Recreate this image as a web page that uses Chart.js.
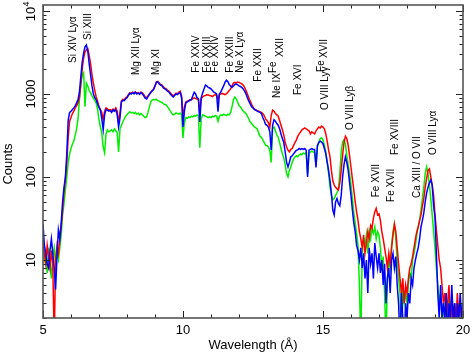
<!DOCTYPE html>
<html>
<head>
<meta charset="utf-8">
<script src="https://cdn.jsdelivr.net/npm/chart.js@4"></script>
<style>
  html, body { margin: 0; padding: 0; background: #fff; }
  #wrap { width: 472px; height: 353px; position: relative; }
</style>
</head>
<body>
<div id="wrap"><canvas id="spec"></canvas></div>
<script>
// spectrum bins: 0.05 A wide, starting at 5 A
const wlStart = 5.0;
const wlStep = 0.05;

// counts per bin (one row per Angstrom)
const countsRed = [
  16,12,9,15,11,8,13,9,1,10,15,12,18,25,40,65,95,150,300,470,
  520,580,620,680,720,780,900,1300,2000,2700,3200,3400,3500,2900,2300,1700,1350,1100,920,820,
  700,650,600,490,620,680,660,640,650,630,660,640,680,620,450,600,820,860,850,900,
  920,980,1030,1020,1050,1030,1060,1020,1040,1010,1050,1030,980,920,900,950,1000,1050,1100,1150,
  1250,1400,1420,1350,1300,1280,1220,1180,1150,1100,1080,1030,980,950,980,1020,1000,1050,1080,950,
  520,700,800,820,830,850,850,880,900,880,870,860,600,880,920,950,960,980,970,960,
  950,930,960,980,970,850,980,1000,1020,1000,980,1000,1050,1100,1150,1250,1350,1380,1350,1390,
  1380,1350,1320,1280,1200,1100,1000,900,820,750,690,660,640,630,620,610,600,580,550,500,
  480,450,400,550,640,620,580,560,540,480,420,370,320,260,230,210,200,215,220,240,
  260,280,310,330,350,370,380,390,380,370,360,330,350,340,330,360,380,400,390,410,
  400,380,330,270,210,175,120,90,80,75,72,70,85,120,180,260,310,290,240,180,
  130,95,70,50,38,30,22,18,14,20,12,16,22,18,26,24,32,38,42,35,
  36,30,22,18,14,11,8,12,9,14,20,27,22,14,9,6,4,6,3,5,
  4,6,8,9,11,14,18,22,25,30,35,45,55,75,95,120,125,100,80,60,
  35,23,15,10,8,5,3,4,2,3,5,2,3,1,3,2,4,2,3,2,3
];
const countsGreen = [
  18,10,12,7,14,9,6,11,14,9,12,10,14,20,35,48,70,100,150,190,
  220,250,270,320,380,500,850,1300,1700,1800,700,1350,1250,1100,1030,950,890,830,775,650,
  490,400,340,230,195,330,370,350,360,370,350,380,360,340,200,380,420,460,500,540,
  560,590,610,590,600,580,600,570,590,560,580,560,540,520,530,600,700,800,850,860,
  850,860,830,820,800,790,760,750,737,700,660,620,580,560,570,590,580,570,590,560,
  296,450,520,510,530,520,540,530,550,540,560,550,225,500,560,550,540,530,520,530,
  520,540,530,550,540,470,540,560,550,570,560,550,570,560,600,700,850,920,880,800,
  720,700,660,620,600,580,540,500,460,440,420,400,390,380,340,310,300,280,260,240,
  240,230,210,150,380,400,360,320,300,260,220,190,170,140,110,100,120,132,150,165,
  175,180,175,185,190,185,195,190,195,110,190,200,205,200,195,140,230,260,290,296,
  280,240,200,150,110,76,60,53,55,60,65,70,110,200,263,280,250,180,140,110,
  80,55,37,28,21,15,5,1,12,18,15,20,12,22,18,24,21,25,18,22,
  20,14,8,11,4,1,6,10,8,15,22,27,18,10,6,4,1,5,3,4,
  3,5,7,6,10,12,15,20,25,30,40,55,75,110,132,110,80,55,35,22,
  14,8,5,3,4,2,3,1,3,2,4,2,3,2,1,3,2,3,2,3,2
];
const countsBlue = [
  27,15,12,9,8,13,18,12,8,4.4,11,23,18,28,50,75,100,190,480,600,
  620,650,680,720,780,850,1050,1600,2400,3100,3700,3900,3300,2300,1700,1250,1000,900,850,760,
  690,640,500,370,560,650,640,620,630,600,640,620,650,560,400,520,800,840,830,870,
  900,960,1020,1000,1040,1000,1050,1000,1030,990,1040,1000,950,890,870,930,990,1040,1090,1130,
  1250,1380,1400,1320,1280,1250,1180,1150,1120,1080,1050,1000,950,920,960,1000,980,1020,1040,900,
  400,620,780,800,820,840,860,950,1050,1000,900,880,460,900,1030,1150,1280,1250,1200,1180,
  1150,1100,1050,1030,1000,610,1000,1060,1150,1250,1380,1470,1420,1300,1250,1200,1250,1300,1320,1290,
  1250,1230,1200,1150,1080,1000,900,820,760,700,680,650,640,620,610,600,580,520,480,430,
  420,400,350,212,420,490,470,440,420,380,330,290,260,200,150,132,150,175,180,190,
  200,210,212,220,215,220,215,220,210,100,210,215,220,215,215,130,240,260,270,263,
  250,220,190,150,120,90,64,40,35,50,55,48,45,60,100,140,175,150,120,85,
  60,40,28,22,15,13,10,14,8,12,6,10,4,14,9,12,6,16,11,8,
  12,7,10,5,9,3,6,8,4,10,12,8,11,5,3,1,4,2,1,3,
  2,4,3,6,5,8,10,12,14,18,25,30,37,50,64,75,85,92,80,45,
  33,12,4,2,5,2,3,2,4,1,3,2,5,2,3,1,3,2,4,2,3
];

const xTickLabels = [5, 10, 15, 20];
const yDecades = [10, 100, 1000, 10000];

// line identifications: text, wavelength, counts level of the label's base
const lineText = ['Si XIV Ly\u03b1', 'Si XIII', 'Mg XII Ly\u03b1', 'Mg XI', 'Fe XXIV', 'Fe XXIII', 'Fe XXIV',
  'Fe XXIII', 'Ne X Ly\u03b1', 'Fe XXII', 'Ne IX', 'Fe', 'XXII', 'Fe XVI', 'O VIII Ly\u03b3', 'Fe', 'XVII',
  'O VIII Ly\u03b2', 'Fe XVII', 'Fe XVII', 'Fe XVIII', 'Ca XIII / O VII', 'O VIII Ly\u03b1'];
const lineWl = [6.08, 6.62, 8.32, 9.06, 10.49, 10.85, 11.14,
  11.68, 12.04, 12.69, 13.35, 13.21, 13.46, 14.11, 15.07, 14.92, 15.04,
  15.96, 16.89, 17.45, 17.57, 18.35, 18.92];
const lineBase = [2360, 4480, 1690, 1690, 1806, 1806, 1806,
  1806, 1806, 1406, 895, 1790, 2790, 972, 641, 1842, 2716,
  368, 57, 50, 184, 56, 184];

const FONT = '"Liberation Sans", Arial, Helvetica, sans-serif';

function toPoints(counts) {
    return counts.map((c, i) => ({ x: wlStart + i * wlStep, y: c }));
}

function seg(ctx, x1, y1, x2, y2) {
    ctx.beginPath();
    ctx.moveTo(x1, y1);
    ctx.lineTo(x2, y2);
    ctx.stroke();
}

function vText(ctx, text, x, y, align) {
    ctx.save();
    ctx.translate(x, y);
    ctx.rotate(-Math.PI / 2);
    ctx.textAlign = align;
    ctx.textBaseline = 'middle';
    ctx.fillText(text, 0, 0);
    ctx.restore();
}

// frame, inward ticks, labels and line ids
const axesPlugin = {
    id: 'axesPlugin',
    afterDatasetsDraw(chart) {
        const { ctx, chartArea: a, scales: { x, y } } = chart;
        ctx.save();

        ctx.strokeStyle = '#222';
        ctx.lineWidth = 1;
        for (let w = 5; w <= 20; w++) {
            const px = Math.round(x.getPixelForValue(w)) + 0.5;
            const len = w % 5 === 0 ? 7 : 3.5;
            seg(ctx, px, a.bottom, px, a.bottom - len);
            seg(ctx, px, a.top, px, a.top + len);
        }
        for (let d = 1; d <= 10000; d *= 10) {
            for (let m = 1; m < 10; m++) {
                const v = d * m;
                if (v < y.min || v > y.max) continue;
                const py = Math.round(y.getPixelForValue(v)) + 0.5;
                const len = m === 1 ? 7 : 3.5;
                seg(ctx, a.left, py, a.left + len, py);
                seg(ctx, a.right, py, a.right - len, py);
            }
        }

        ctx.strokeStyle = '#555';
        ctx.lineWidth = 1.6;
        ctx.strokeRect(a.left, a.top, a.right - a.left, a.bottom - a.top);

        ctx.fillStyle = '#000';
        ctx.font = '13px ' + FONT;
        ctx.textAlign = 'center';
        ctx.textBaseline = 'middle';
        xTickLabels.forEach(t => ctx.fillText(String(t), x.getPixelForValue(t), a.bottom + 12));
        ctx.fillText('Wavelength (\u00c5)', (a.left + a.right) / 2, a.bottom + 27);

        yDecades.forEach(v => {
            const py = y.getPixelForValue(v);
            if (v === 10000) {
                vText(ctx, '10', 31.5, py + 3, 'center');
                ctx.font = '9px ' + FONT;
                vText(ctx, '4', 26.5, py - 7, 'center');
                ctx.font = '13px ' + FONT;
            } else {
                vText(ctx, String(v), 31.5, py, 'center');
            }
        });
        vText(ctx, 'Counts', 8.5, 164, 'center');

        ctx.font = '10px ' + FONT;
        lineText.forEach((t, i) => {
            vText(ctx, t, x.getPixelForValue(lineWl[i]), y.getPixelForValue(lineBase[i]), 'left');
        });
        ctx.restore();
    }
};

new Chart(document.getElementById('spec'), {
    type: 'line',
    data: {
        datasets: [
            { label: 'blue', data: toPoints(countsBlue), borderColor: '#0000ff', order: 1 },
            { label: 'red', data: toPoints(countsRed), borderColor: '#ff0000', order: 2 },
            { label: 'green', data: toPoints(countsGreen), borderColor: '#00ee00', order: 3 }
        ]
    },
    options: {
        responsive: true,
        maintainAspectRatio: false,
        animation: false,
        layout: { padding: { left: 43, top: 5, right: 9, bottom: 35 } },
        elements: {
            line: { borderWidth: 1.5, tension: 0 },
            point: { radius: 0 }
        },
        plugins: { legend: { display: false }, tooltip: { enabled: false } },
        scales: {
            x: { type: 'linear', min: 5, max: 20, display: false },
            y: { type: 'logarithmic', min: 2, max: 11800, display: false }
        }
    },
    plugins: [axesPlugin]
});
</script>
</body>
</html>
